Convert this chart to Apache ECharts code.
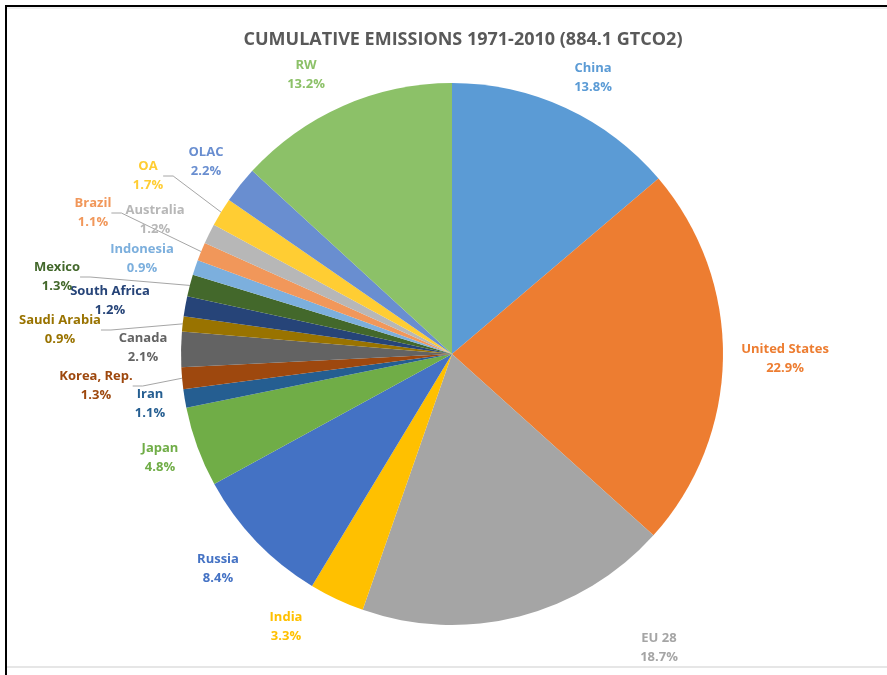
<!DOCTYPE html>
<html>
<head>
<meta charset="utf-8">
<script src="https://cdn.jsdelivr.net/npm/echarts@6/dist/echarts.min.js"></script>
<style>
  html, body { margin: 0; padding: 0; background: #ffffff; }
  #chart { width: 887px; height: 675px; }
</style>
</head>
<body>
<div id="chart"></div>
<script>
// Share of cumulative CO2 emissions 1971-2010, percent
const regions = [
  'China', 'United States', 'EU 28', 'India', 'Russia', 'Japan', 'Iran',
  'Korea, Rep.', 'Canada', 'Saudi Arabia', 'South Africa', 'Mexico',
  'Indonesia', 'Brazil', 'Australia', 'OA', 'OLAC', 'RW'
];
const shares = [
  13.8, 22.9, 18.7, 3.3, 8.4, 4.8, 1.1,
  1.3, 2.1, 0.9, 1.2, 1.3,
  0.9, 1.1, 1.2, 1.7, 2.2, 13.2
];
const colors = [
  '#5B9BD5', '#ED7D31', '#A5A5A5', '#FFC000', '#4472C4', '#70AD47', '#255E91',
  '#9E480E', '#636363', '#997300', '#264478', '#43682B',
  '#7CAFDD', '#F1975A', '#B7B7B7', '#FFCD33', '#698ED0', '#8CC168'
];
// regions whose label is connected to its slice by a leader line
const withLeader = ['OA', 'Brazil', 'Mexico', 'Saudi Arabia', 'Korea, Rep.'];

// label block centres (px) for each region
const labelSpots = {
  'China': [593, 78], 'United States': [785, 359], 'EU 28': [659, 648],
  'India': [286, 627], 'Russia': [218, 569], 'Japan': [160, 458],
  'Iran': [150, 404], 'Korea, Rep.': [96, 386], 'Canada': [143, 348],
  'Saudi Arabia': [60, 330], 'South Africa': [110, 301], 'Mexico': [57, 277],
  'Indonesia': [142, 259], 'Brazil': [93, 213], 'Australia': [155, 220],
  'OA': [148, 176], 'OLAC': [206, 162], 'RW': [306, 75]
};

const FONT = '"Open Sans", "Liberation Sans", sans-serif';

const chart = echarts.init(document.getElementById('chart'), null, { renderer: 'canvas' });

const data = regions.map((name, i) => ({
  name: name,
  value: shares[i],
  itemStyle: { color: colors[i] },
  label: { color: colors[i] },
  labelLine: { show: withLeader.indexOf(name) >= 0 }
}));

chart.setOption({
  backgroundColor: '#ffffff',
  animation: false,
  title: {
    text: 'CUMULATIVE EMISSIONS 1971-2010 (884.1 GTCO2)',
    left: 458,
    top: 26,
    textAlign: 'center',
    textStyle: { fontFamily: FONT, fontSize: 18, fontWeight: 'bold', color: '#595959' }
  },
  graphic: [
    // frame around the chart
    { type: 'rect', shape: { x: 5, y: 5, width: 882, height: 2 }, style: { fill: '#000000' } },
    { type: 'rect', shape: { x: 5, y: 5, width: 2, height: 670 }, style: { fill: '#000000' } },
    { type: 'rect', shape: { x: 7, y: 7, width: 880, height: 2 }, style: { fill: '#EFEFEF' } },
    { type: 'rect', shape: { x: 7, y: 666, width: 880, height: 2 }, style: { fill: '#E6E6E6' } }
  ],
  series: [{
    type: 'pie',
    center: [452, 354],
    radius: 271,
    startAngle: 90,
    clockwise: true,
    avoidLabelOverlap: false,
    itemStyle: { borderWidth: 0 },
    label: {
      show: true,
      position: 'outside',
      fontFamily: FONT,
      fontSize: 13,
      fontWeight: 'bold',
      lineHeight: 19,
      align: 'center',
      formatter: p => p.name + '\n' + p.value.toFixed(1) + '%'
    },
    labelLine: {
      show: false,
      length: 10,
      length2: 10,
      lineStyle: { color: '#A6A6A6', width: 1 }
    },
    labelLayout: function (params) {
      const spot = labelSpots[regions[params.dataIndex]];
      return {
        x: spot[0],
        y: spot[1],
        align: 'center',
        verticalAlign: 'middle',
        hideOverlap: false
      };
    },
    emphasis: { disabled: true },
    data: data
  }]
});
</script>
</body>
</html>
